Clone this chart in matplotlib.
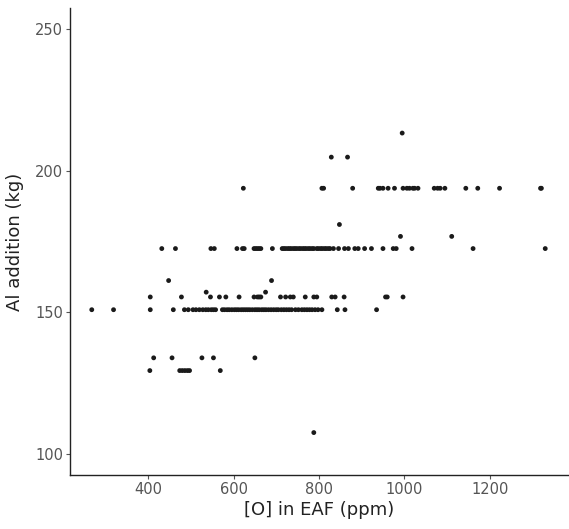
import matplotlib
matplotlib.use("Agg")
import matplotlib.pyplot as plt

# [O] in EAF (ppm) values, grouped by Al addition level (kg)
o_194 = [623, 807, 811, 879, 939, 943, 950, 962, 977, 997, 1006, 1012, 1020,
         1024, 1032, 1070, 1078, 1084, 1095, 1144, 1172, 1223, 1319, 1321]
o_173 = [432, 464, 547, 555, 608, 621, 625, 648, 652, 656, 660, 664, 691, 714,
         718, 722, 727, 731, 735, 740, 744, 748, 753, 757, 762, 766, 770, 775,
         779, 784, 788, 795, 799, 804, 808, 813, 817, 822, 826, 834, 846, 860,
         869, 884, 892, 907, 923, 950, 974, 981, 1018, 1161, 1330]
o_156 = [405, 478, 546, 567, 582, 613, 648, 656, 660, 664, 710, 722, 733, 740,
         768, 788, 795, 830, 838, 859, 956, 960, 997]
o_151 = [268, 319, 405, 459, 485, 494, 505, 512, 520, 528, 535, 541, 548, 553,
         558, 574, 579, 585, 590, 596, 602, 607, 612, 618, 623, 628, 633, 638,
         644, 650, 655, 660, 666, 671, 676, 682, 688, 694, 700, 705, 712, 718,
         724, 730, 736, 745, 752, 760, 766, 772, 778, 784, 791, 798, 807, 843,
         861, 935]
o_134 = [413, 456, 526, 553, 650]
o_130 = [404, 474, 480, 486, 492, 497, 569]

# single points off the main levels
o_other = [995, 829, 867, 848, 991, 1111, 448, 689, 536, 675, 788]
al_other = [213.3, 204.8, 204.8, 181, 176.8, 176.8, 161.2, 161.2, 157.1, 157.1, 107.5]

x = o_194 + o_173 + o_156 + o_151 + o_134 + o_130 + o_other
y = ([193.8] * len(o_194) + [172.5] * len(o_173) + [155.4] * len(o_156)
     + [150.9] * len(o_151) + [133.9] * len(o_134) + [129.4] * len(o_130)
     + al_other)

fig = plt.figure(figsize=(5.69, 5.29), dpi=100)
ax = fig.add_axes([0.123, 0.102, 0.875, 0.883])

ax.scatter(x, y, s=12, color="#1a1a1a", edgecolors="none")

ax.set_xlim(217, 1383)
ax.set_ylim(92.5, 257.5)
ax.set_xticks([400, 600, 800, 1000, 1200])
ax.set_yticks([100, 150, 200, 250])

for side in ["top", "right"]:
    ax.spines[side].set_visible(False)
for side in ["left", "bottom"]:
    ax.spines[side].set_linewidth(1.0)
    ax.spines[side].set_color("#222222")

ax.tick_params(length=3, width=0.8, color="#555555", labelcolor="#555555",
               labelsize=10.5, pad=2)

ax.set_xlabel("[O] in EAF (ppm)", fontsize=13, color="#222222", labelpad=3)
ax.set_ylabel("Al addition (kg)", fontsize=13, color="#222222", labelpad=8)

fig.savefig("out.png", dpi=100)
